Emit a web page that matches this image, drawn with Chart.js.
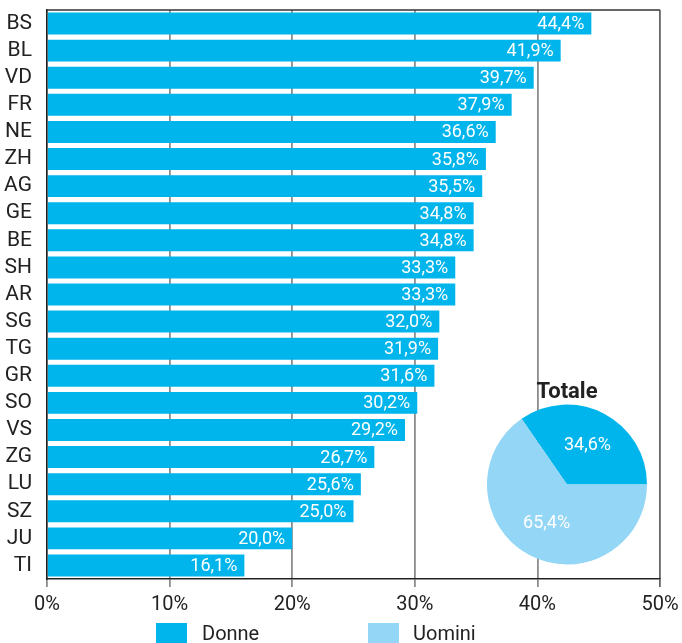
<!DOCTYPE html>
<html>
<head>
<meta charset="utf-8">
<script src="https://cdn.jsdelivr.net/npm/chart.js@4/dist/chart.umd.min.js"></script>
<style>
  html, body { margin: 0; padding: 0; background: #fff; overflow: hidden; }
  #wrap { position: relative; width: 682px; height: 643px; }
  #bar { position: absolute; left: 0; top: 0; }
  #pie { position: absolute; left: 487px; top: 381px; }
  .lg-box { position: absolute; top: 623px; width: 31px; height: 22px; }
  .lg-txt { position: absolute; top: 622px; font: 20px Roboto, "Liberation Sans", sans-serif; line-height: 22px; color: #222; white-space: nowrap; }
</style>
</head>
<body>
<div id="wrap">
  <canvas id="bar" width="682" height="643"></canvas>
  <canvas id="pie" width="160" height="184"></canvas>
  <div class="lg-box" id="lgb1" style="left:156px;"></div>
  <div class="lg-txt" id="lgt1" style="left:202px;"></div>
  <div class="lg-box" id="lgb2" style="left:368px;"></div>
  <div class="lg-txt" id="lgt2" style="left:413px;"></div>
</div>
<script>
// ---- data ----
const categories = ["BS","BL","VD","FR","NE","ZH","AG","GE","BE","SH","AR","SG","TG","GR","SO","VS","ZG","LU","SZ","JU","TI"];
const donneValues = [44.4,41.9,39.7,37.9,36.6,35.8,35.5,34.8,34.8,33.3,33.3,32.0,31.9,31.6,30.2,29.2,26.7,25.6,25.0,20.0,16.1];
const xTicks = [0,10,20,30,40,50];
const pieLabels = ["Donne","Uomini"];
const pieValues = [34.6,65.4];
const pieTitle = "Totale";

// ---- style ----
const FONT = 'Roboto, "Liberation Sans", sans-serif';
const C_DONNE = 'rgb(0,181,235)';
const C_UOMINI = 'rgb(148,214,246)';
const fmt = v => v.toFixed(1).replace('.', ',') + '%';

document.getElementById('lgb1').style.background = C_DONNE;
document.getElementById('lgb2').style.background = C_UOMINI;
document.getElementById('lgt1').textContent = pieLabels[0];
document.getElementById('lgt2').textContent = pieLabels[1];

const barValueLabels = {
  id: 'barValueLabels',
  afterDatasetsDraw(chart) {
    const ctx = chart.ctx;
    const meta = chart.getDatasetMeta(0);
    ctx.save();
    ctx.font = '18px ' + FONT;
    ctx.fillStyle = '#fff';
    ctx.textAlign = 'right';
    ctx.textBaseline = 'middle';
    meta.data.forEach((bar, i) => {
      ctx.fillText(fmt(chart.data.datasets[0].data[i]), bar.x - 7, bar.y + 1);
    });
    ctx.restore();
  }
};

const topFrame = {
  id: 'topFrame',
  afterDraw(chart) {
    const a = chart.chartArea, ctx = chart.ctx;
    ctx.save();
    ctx.strokeStyle = '#333';
    ctx.lineWidth = 1.5;
    ctx.beginPath();
    ctx.moveTo(a.left, a.top);
    ctx.lineTo(a.right, a.top);
    ctx.stroke();
    ctx.restore();
  }
};

new Chart(document.getElementById('bar'), {
  type: 'bar',
  data: {
    labels: categories,
    datasets: [{
      label: pieLabels[0],
      data: donneValues,
      backgroundColor: C_DONNE,
      borderWidth: 0,
      categoryPercentage: 1,
      barPercentage: 0.81
    }]
  },
  options: {
    indexAxis: 'y',
    responsive: false,
    animation: false,
    devicePixelRatio: 1,
    layout: { padding: { top: 10, right: 22, bottom: 20, left: 0 } },
    plugins: { legend: { display: false }, tooltip: { enabled: false } },
    scales: {
      x: {
        min: 0, max: 50,
        afterBuildTicks(axis) { axis.ticks = xTicks.map(v => ({ value: v })); },
        afterFit(axis) { axis.paddingLeft = 0; axis.paddingRight = 0; },
        ticks: {
          callback: v => v + '%',
          font: { family: FONT, size: 20 },
          color: '#222',
          padding: 6,
          maxRotation: 0
        },
        grid: {
          color: ctx => (ctx.tick && ctx.tick.value === 50) ? '#666' : '#8c8c8c',
          lineWidth: 1.8,
          tickLength: 8,
          drawTicks: true
        },
        border: { display: true, color: '#222', width: 1.5 }
      },
      y: {
        afterFit(axis) { axis.width = 47; axis.paddingTop = 0; axis.paddingBottom = 0; },
        ticks: {
          font: { family: FONT, size: 21 },
          color: '#222',
          padding: 15,
          autoSkip: false
        },
        grid: { display: false, drawTicks: false },
        border: { display: true, color: '#222', width: 1.5 }
      }
    }
  },
  plugins: [barValueLabels, topFrame]
});

const pieValueLabels = {
  id: 'pieValueLabels',
  afterDatasetsDraw(chart) {
    const ctx = chart.ctx;
    const meta = chart.getDatasetMeta(0);
    ctx.save();
    ctx.font = '18px ' + FONT;
    ctx.fillStyle = '#fff';
    ctx.textAlign = 'center';
    ctx.textBaseline = 'middle';
    meta.data.forEach((arc, i) => {
      const p = arc.getProps(['x','y','startAngle','endAngle','outerRadius']);
      const mid = (p.startAngle + p.endAngle) / 2;
      const r = p.outerRadius * 0.55;
      ctx.fillText(fmt(chart.data.datasets[0].data[i]), p.x + Math.cos(mid) * r, p.y + Math.sin(mid) * r);
    });
    ctx.restore();
  }
};

new Chart(document.getElementById('pie'), {
  type: 'pie',
  data: {
    labels: pieLabels,
    datasets: [{
      data: pieValues,
      backgroundColor: [C_DONNE, C_UOMINI],
      borderWidth: 0
    }]
  },
  options: {
    responsive: false,
    animation: false,
    devicePixelRatio: 1,
    rotation: -pieValues[0],
    layout: { padding: 0 },
    plugins: {
      legend: { display: false },
      tooltip: { enabled: false },
      title: {
        display: true,
        text: pieTitle,
        color: '#222',
        font: { family: FONT, size: 22, weight: 'bold', lineHeight: 1 },
        padding: { top: 0, bottom: 1 }
      }
    }
  },
  plugins: [pieValueLabels]
});
</script>
</body>
</html>
